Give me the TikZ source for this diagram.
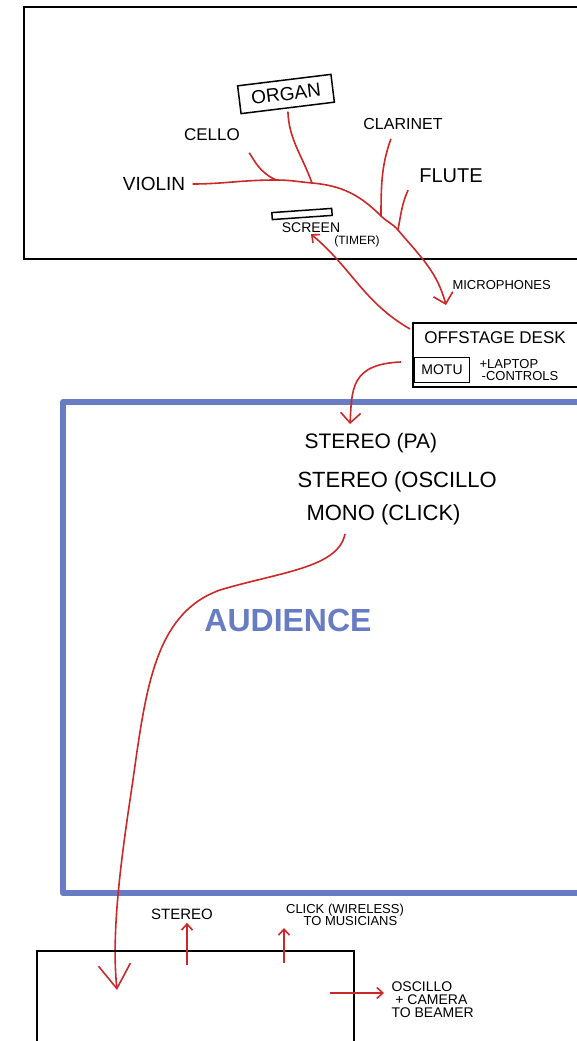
\documentclass[tikz,border=0pt]{standalone}
\usepackage{fontspec}
\setmainfont{Liberation Sans}
\usetikzlibrary{arrows.meta}
\definecolor{wirered}{RGB}{205,40,40}
\definecolor{hallblue}{RGB}{104,124,196}

\begin{document}
\begin{tikzpicture}[x=1pt,y=-1pt,
    wire/.style={wirered,line width=1.6pt},
    smalltip/.style={-{Straight Barb[length=6pt,width=11pt]}},
    medtip/.style={-{Straight Barb[length=10pt,width=20pt]}},
    bigtip/.style={-{Straight Barb[length=24pt,width=32pt]}},
    box/.style={draw,line width=1.5pt},
    hand/.style={font=\fontsize{#1}{#1}\selectfont}]
    \useasboundingbox (0,0) rectangle (577,1041);
    \fill[white] (0,0) rectangle (577,1041);
    % stage
    \draw[line width=1.8pt] (600,7) -- (24,7) -- (24,259) -- (600,259);
    \node[box,rotate=7,minimum width=94pt,minimum height=28pt,hand=19] (organ) at (286,94) {ORGAN};
    \node[hand=17] (cello) at (212,135) {CELLO};
    \node[hand=16] (clarinet) at (403,124) {CLARINET};
    \node[hand=19] (violin) at (154,184) {VIOLIN};
    \node[hand=20] (flute) at (451,176) {FLUTE};
    \node[box,rotate=4,minimum width=60pt,minimum height=7pt,inner sep=0pt] (screen) at (302,214) {};
    \node[hand=14,inner sep=1pt] (screenlbl) at (311,228) {SCREEN};
    \node[hand=12] (timer) at (357,241) {(TIMER)};
    \coordinate (jc) at (276,180);
    \coordinate (jo) at (312,183);
    \coordinate (jcl) at (381,216);
    \coordinate (jf) at (398,230);
    \coordinate (micin) at (446,305);
    \draw[wire,medtip,shorten <=4pt] (violin.east) to[out=0,in=180] (jc) to[out=0,in=175] (jo)
      to[out=-5,in=135] (jcl) to[out=-45,in=130] (jf) to[out=-50,in=105] (micin);
    \draw[wire,shorten <=10pt] (cello.south east) to[out=-55,in=155] (jc);
    \draw[wire,shorten <=3pt] (organ.south) to[out=-88,in=110] (jo);
    \draw[wire,shorten <=6pt] ([xshift=-10pt]clarinet.south) to[out=-110,in=90] (jcl);
    \draw[wire,shorten <=4pt] ([xshift=-6pt]flute.south west) to[out=-115,in=80] (jf);
    \node[hand=13,anchor=west] (mics) at (449,285) {MICROPHONES};
    % offstage desk
    \node[box,anchor=north west,minimum width=190pt,minimum height=64pt] (desk) at (412,322) {};
    \node[hand=17] (desklbl) at (495,338) {OFFSTAGE DESK};
    \node[box,minimum width=55pt,minimum height=25pt,inner sep=0pt,hand=14] (motu) at (442,370) {MOTU};
    \node[hand=13,align=left,anchor=west] (laptop) at (476,370) {+LAPTOP\\[-1pt]\,-CONTROLS};
    \coordinate (deskout) at (410,329);
    \draw[wire,smalltip] (deskout) to[out=150,in=-40] (screenlbl.south);
    % audience
    \draw[hallblue,line width=6pt,line join=round] (600,402) -- (63,402) -- (63,893) -- (600,893);
    \node[hand=21,anchor=west] (pa) at (301,443) {STEREO (PA)};
    \node[hand=22,anchor=west] (osc) at (294,482) {STEREO (OSCILLO};
    \node[hand=22,anchor=west] (mono) at (303,515) {MONO (CLICK)};
    \node[hallblue,font=\fontsize{32}{32}\selectfont\bfseries] (audience) at (288,620) {AUDIENCE};
    \coordinate (deskpa) at (401,362);
    \coordinate (pain) at (350,424);
    \draw[wire,medtip] (deskpa) .. controls (350,364) and (352,390) .. (pain);
    \coordinate (monoout) at (345,534);
    \coordinate (rackin) at (117,990);
    \draw[wire,bigtip] (monoout) .. controls (338,568) and (280,572) .. (220,590)
      .. controls (150,615) and (145,700) .. (130,800) .. controls (118,880) and (112,940) .. (rackin);
    % stage rack
    \node[box,anchor=north west,minimum width=317pt,minimum height=120pt] (rack) at (36,950) {};
    \node[hand=15] (stereo) at (182,914) {STEREO};
    \node[hand=13,align=center,inner sep=2pt] (click) at (345,915) {CLICK (WIRELESS)\\[-1pt]\ \ \ TO MUSICIANS};
    \node[hand=14,align=left,anchor=west] (beamer) at (388,1000) {OSCILLO\\[-1pt]\ + CAMERA\\[-1pt]TO BEAMER};
    \coordinate (stereoout) at (187,965);
    \coordinate (clickout) at (284,963);
    \coordinate (oscout) at (330,993);
    \draw[wire,smalltip] (stereoout) -- (stereoout |- stereo.south);
    \draw[wire,smalltip] (clickout) -- (clickout |- click.south west);
    \draw[wire,smalltip] (oscout) -- ([xshift=-4pt]oscout -| beamer.west);
\end{tikzpicture}
\end{document}
